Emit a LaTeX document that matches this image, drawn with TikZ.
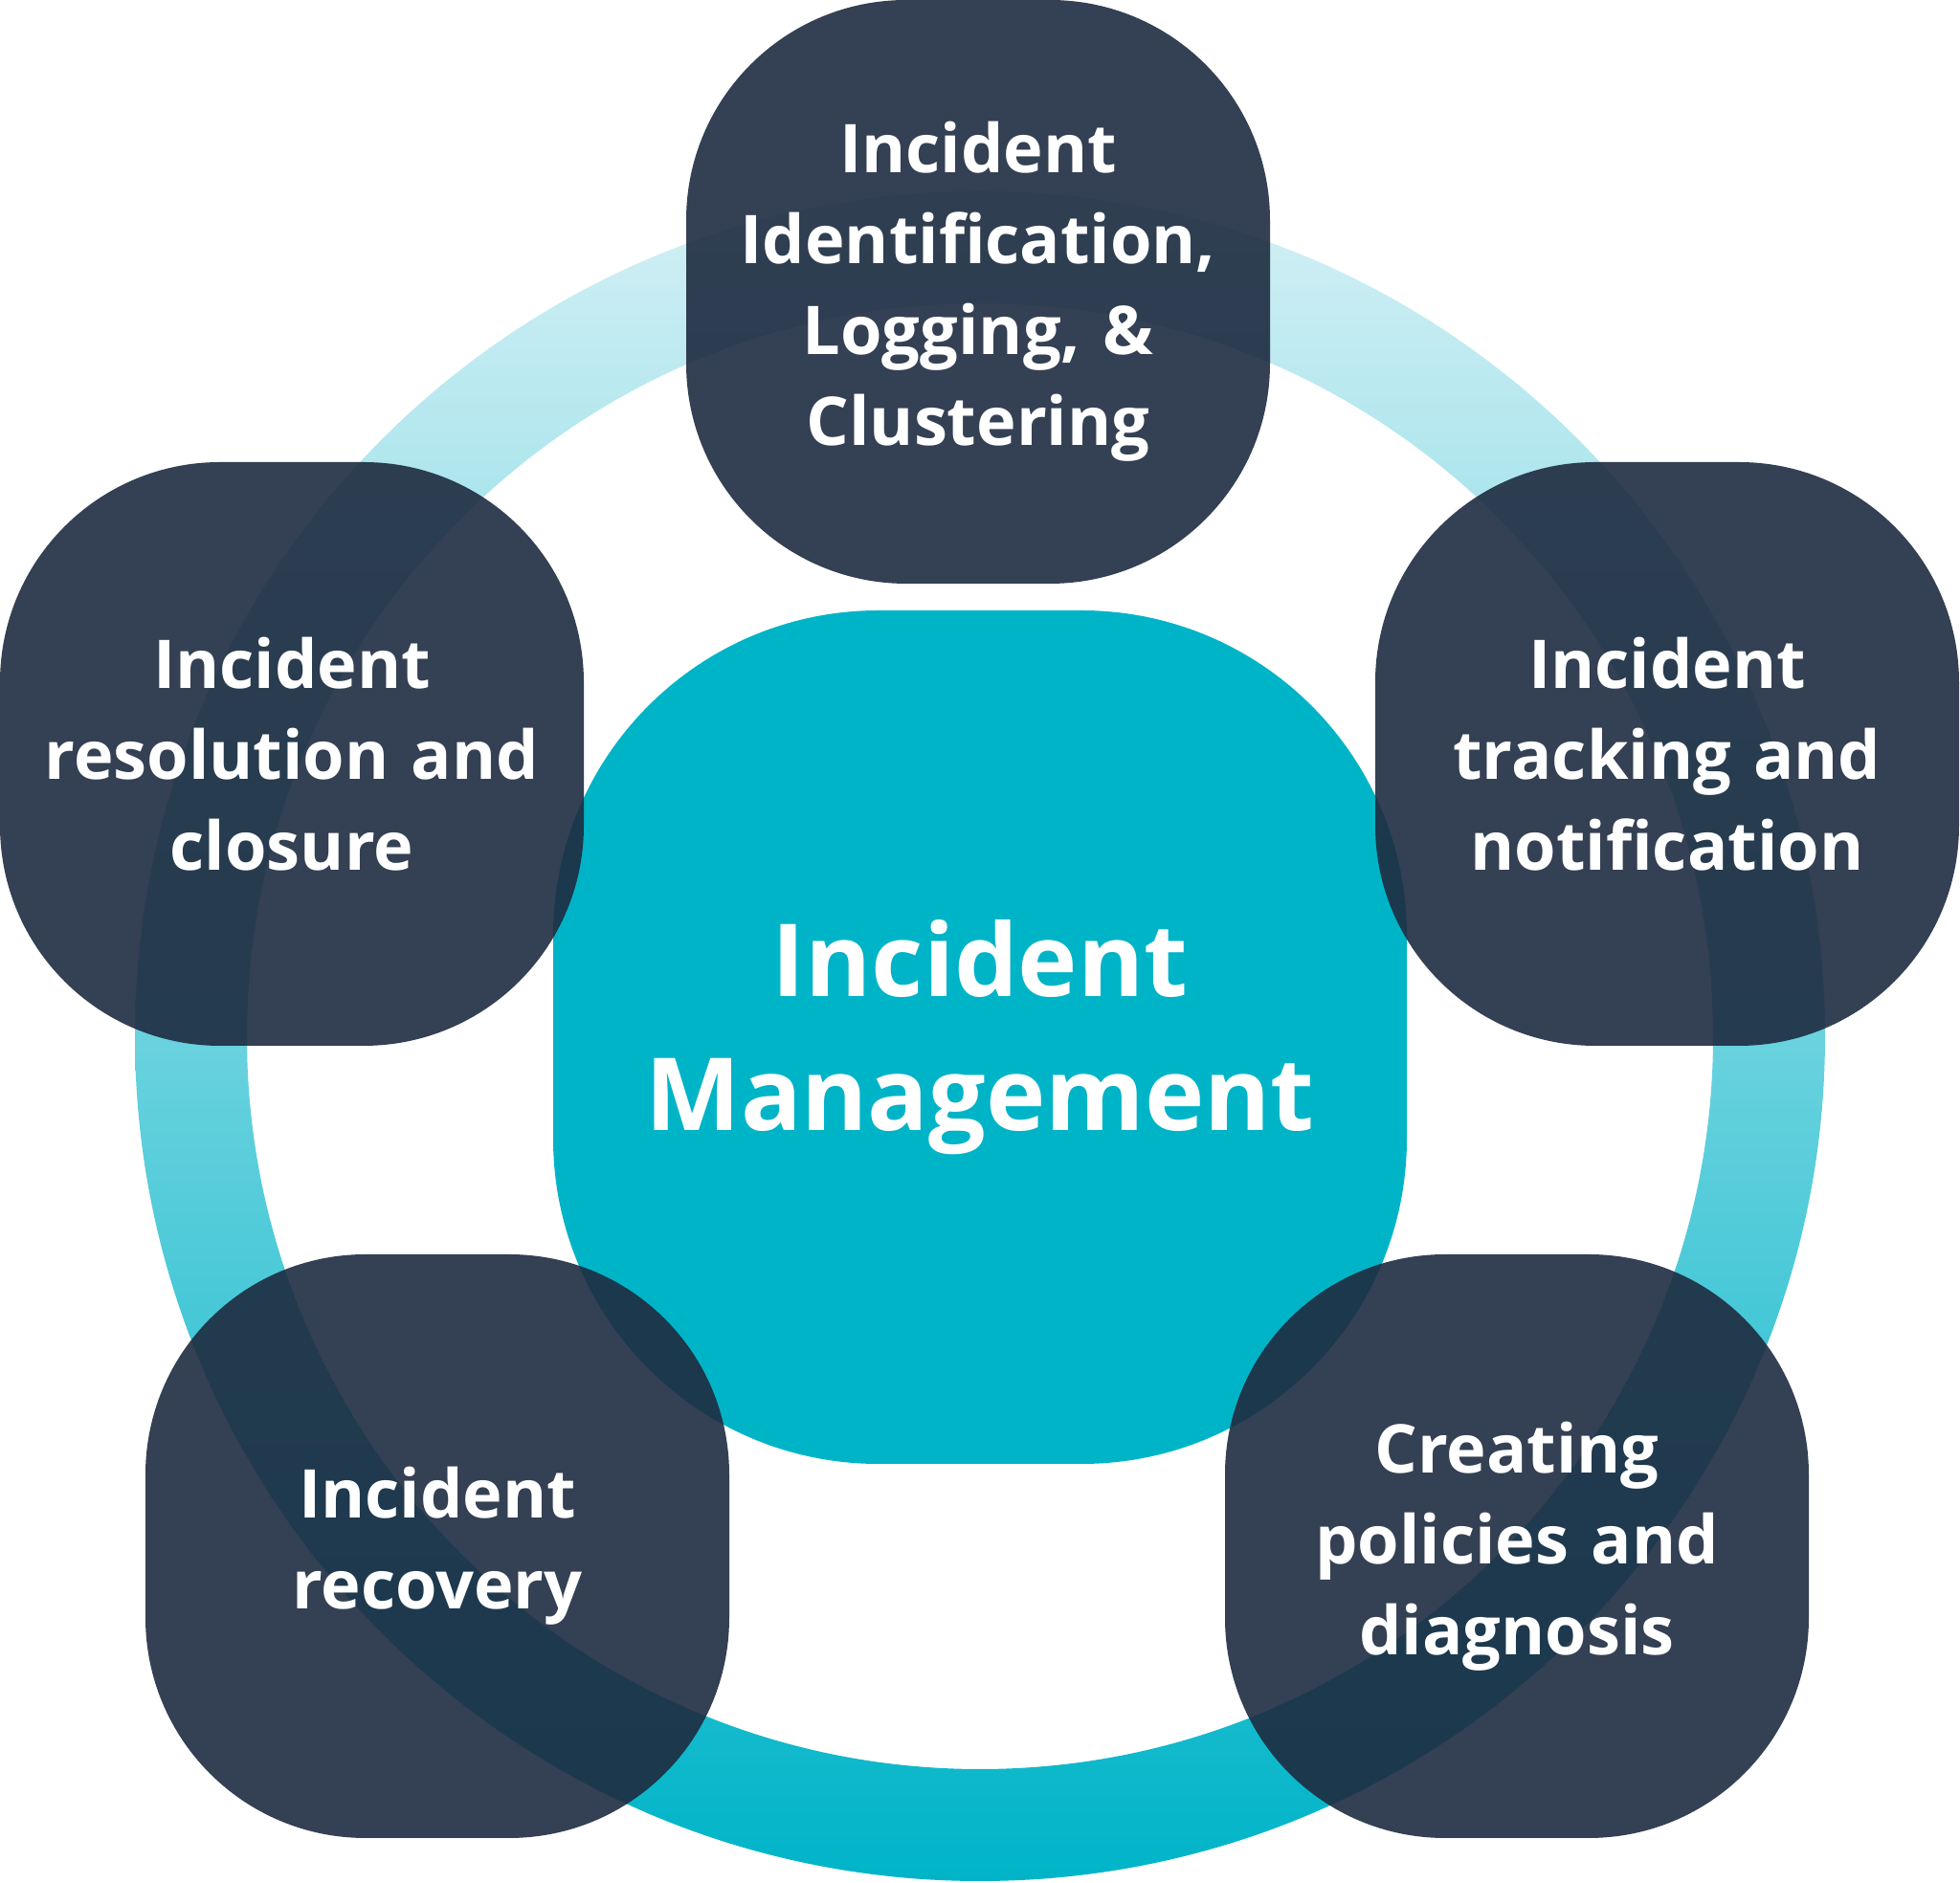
\documentclass[tikz,border=0pt]{standalone}
\usepackage{fontspec}
\setmainfont{Open Sans}
\usetikzlibrary{positioning}
\definecolor{navy}{HTML}{1E2B40}
\definecolor{teal}{HTML}{00B4C8}
\definecolor{paleteal}{HTML}{D3F0F5}
\tikzset{
  stage/.style={rounded corners=2.3cm, minimum size=6.1cm, fill=navy, fill opacity=0.9,
    text opacity=1, text=white, align=center, text width=5.2cm,
    font=\fontsize{20}{27}\selectfont\bfseries},
  hub/.style={rounded corners=3.4cm, minimum size=8.92cm, fill=teal, text=white,
    align=center, font=\fontsize{30}{40}\selectfont\bfseries}
}
\begin{document}
\begin{tikzpicture}
\useasboundingbox (0,0) rectangle (20.48,19.68);

% the ring
\coordinate (mid) at (10.24,8.85);
\shade[top color=paleteal, bottom color=teal, even odd rule]
  (mid) circle (8.83) circle (7.66);

% the hub
\node[hub] (im) at (10.24,8.84) {Incident\\Management};

% the stages
\node[stage] (ident) at (10.22,16.63) {Incident\\Identification,\\Logging, \&\\Clustering};
\node[stage] (track) at (17.42,11.80) {Incident\\tracking and\\notification};
\node[stage] (policy) at (15.85,3.52) {Creating\\policies and\\diagnosis};
\node[stage] (recov) at (4.57,3.52) {Incident\\recovery};
\node[stage] (resol) at (3.05,11.80) {Incident\\resolution and\\closure};
\end{tikzpicture}
\end{document}
